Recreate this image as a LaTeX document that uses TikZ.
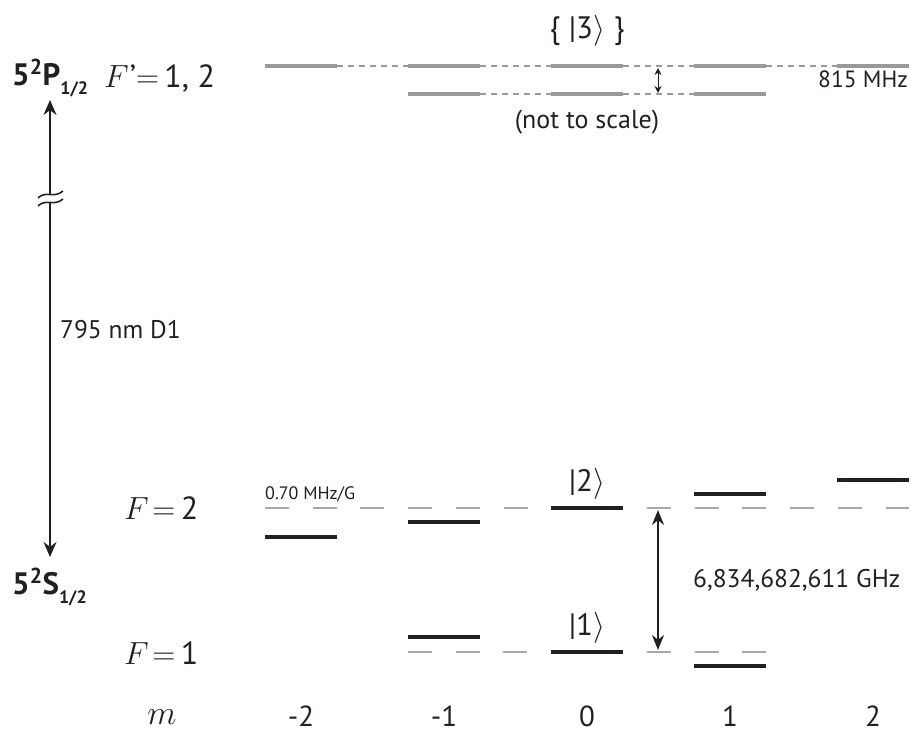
\RequirePackage{fix-cm}
\documentclass[tikz,border=0pt]{standalone}
\usepackage{fontspec}
\setmainfont{PT Sans}
\usetikzlibrary{arrows.meta}
\definecolor{lvlgray}{HTML}{9A9A9A}
\definecolor{dashgray}{HTML}{A8A8A8}
\definecolor{ink}{HTML}{231F20}
\begin{document}
\begin{tikzpicture}[x=1pt,y=-1pt,
  blk/.style={ink,line width=3.6pt},
  gseg/.style={lvlgray,line width=3.6pt},
  gdash/.style={lvlgray,line width=1.4pt,dash pattern=on 6pt off 5pt},
  zdash/.style={dashgray,line width=2pt,dash pattern=on 24pt off 23.7pt},
  txt/.style={inner sep=0pt,text=ink},
  bigarrow/.style={ink,line width=1.8pt,{Stealth[length=15pt,width=13pt]}-{Stealth[length=15pt,width=13pt]}},
]
\useasboundingbox (0,0) rectangle (911,735);
% ---- excited state F' ----
\foreach \x in {265,408,551,694,837} \draw[gseg] (\x,66) -- ++(72,0);
\foreach \x in {408,551,694} \draw[gseg] (\x,94) -- ++(72,0);
\foreach \x in {337,480,623,766} \draw[gdash] (\x,66) -- ++(71,0);
\foreach \x in {480,623} \draw[gdash] (\x,94) -- ++(71,0);
\coordinate (hfa) at (658,68);
\coordinate (hfb) at (658,93);
\draw[ink,line width=1pt,{Stealth[length=7pt,width=7pt]}-{Stealth[length=7pt,width=7pt]}] (hfa) -- (hfb);
\node[txt,font=\fontsize{31}{31}\selectfont] (k3) at (587,31) {\{\;|3$\rangle$\;\}};
\node[txt,font=\fontsize{26}{26}\selectfont] (nts) at (587,122) {(not to scale)};
\node[txt,anchor=east,font=\fontsize{23.5}{23.5}\selectfont] (hf) at (908,79) {815 MHz};
% ---- left labels ----
\node[txt,anchor=west,font=\fontsize{31}{31}\selectfont] (P) at (12,78) {\textbf{5\textsuperscript{2}P}\raisebox{-9pt}{\fontsize{18}{18}\selectfont\bfseries 1/2}};
\node[txt,anchor=west,font=\fontsize{32}{32}\selectfont] (Fp) at (104,78) {$F$\kern1pt’$=$\,1, 2};
\node[txt,anchor=west,font=\fontsize{31}{31}\selectfont] (S) at (12,587) {\textbf{5\textsuperscript{2}S}\raisebox{-9pt}{\fontsize{18}{18}\selectfont\bfseries 1/2}};
\coordinate (ta) at (50,100);
\coordinate (tb) at (50,557);
\draw[bigarrow] (ta) -- (tb);
% break mark
\fill[white] (40,194) rectangle (62,203);
\draw[ink,line width=1.6pt] (38,198) .. controls (46,190) and (54,199) .. (63,191);
\draw[ink,line width=1.6pt] (38,206) .. controls (46,198) and (54,207) .. (63,199);
\node[txt,anchor=west,font=\fontsize{25.5}{25.5}\selectfont] (d1) at (60,330) {795 nm D1};
% ---- ground state ----
\node[txt,anchor=west,font=\fontsize{32}{32}\selectfont] (F2) at (124,508) {$F\!=\,$2};
\node[txt,anchor=west,font=\fontsize{32}{32}\selectfont] (F1) at (124,653) {$F\!=\,$1};
\node[txt,anchor=base,font=\fontsize{34}{34}\selectfont] (m) at (162,724) {$m$};
\foreach \x/\l in {301/-2,444/-1,587/0,730/1,873/2}
  \node[txt,anchor=base,font=\fontsize{29}{29}\selectfont] (m\l) at (\x,726) {\l};
% unshifted levels (dashed)
\draw[zdash] (265,508) -- (551,508);
\draw[zdash] (647,508) -- (909,508);
\draw[zdash] (408,652) -- (551,652);
\draw[zdash] (647,652) -- (766,652);
% Zeeman shifted levels
\draw[blk] (265,537) -- ++(72,0);
\draw[blk] (408,522) -- ++(72,0);
\draw[blk] (551,508) -- ++(72,0);
\draw[blk] (694,494) -- ++(72,0);
\draw[blk] (837,480) -- ++(72,0);
\draw[blk] (408,637) -- ++(72,0);
\draw[blk] (551,652) -- ++(72,0);
\draw[blk] (694,666) -- ++(72,0);
\node[txt,font=\fontsize{31}{31}\selectfont] (k2) at (587,484) {|2$\rangle$};
\node[txt,font=\fontsize{31}{31}\selectfont] (k1) at (587,628) {|1$\rangle$};
\node[txt,anchor=west,font=\fontsize{18}{18}\selectfont] (zg) at (265,494) {0.70 MHz/G};
\coordinate (ca) at (658,510);
\coordinate (cb) at (658,650);
\draw[ink,line width=1.6pt,{Stealth[length=15pt,width=12pt]}-{Stealth[length=15pt,width=12pt]}] (ca) -- (cb);
\node[txt,anchor=west,font=\fontsize{25.5}{25.5}\selectfont] (clk) at (693,580) {6,834,682,611 GHz};
\end{tikzpicture}
\end{document}
